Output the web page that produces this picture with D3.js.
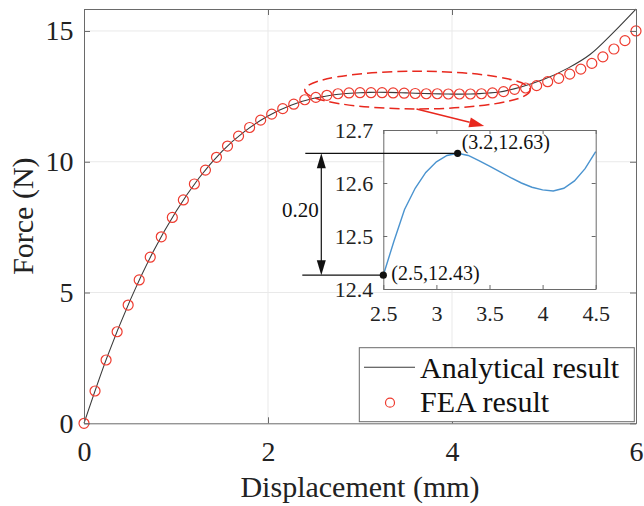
<!DOCTYPE html>
<html lang="en">
  <head>
    <meta charset="utf-8">
    <title>Force vs displacement</title>
    <style>
      body { margin: 0; background: #fff; }
      svg text { font-family: 'Liberation Serif', 'Times New Roman', Times, serif !important; }
    </style>
  </head>
  <body>
    <div id="chart"></div>
  </body>
  <script src="https://cdnjs.cloudflare.com/ajax/libs/d3/7.8.5/d3.min.js"></script>
  <script type="text/javascript">

    // analytical curve
    const analyticalX = [0, 0.25, 0.5, 0.75, 1.0, 1.25, 1.5, 1.75, 2.0, 2.25,
      2.5, 2.6, 2.7, 2.8, 2.9, 3.0, 3.1, 3.2, 3.3, 3.4, 3.5, 3.6, 3.7, 3.8, 3.9,
      4.0, 4.1, 4.2, 4.3, 4.4, 4.5, 4.75, 5.0, 5.25, 5.5, 5.75, 6.0]
    const analyticalY = [0, 2.52, 4.69, 6.55, 8.1, 9.38, 10.4, 11.17, 11.75, 12.16,
      12.426, 12.49, 12.55, 12.59, 12.62, 12.64, 12.652, 12.656, 12.652, 12.642, 12.632, 12.621, 12.61, 12.6, 12.592,
      12.587, 12.585, 12.59, 12.604, 12.627, 12.659, 12.86, 13.15, 13.56, 14.1, 14.93, 15.84]

    // FEA points
    const feaX = [0, 0.12, 0.24, 0.36, 0.48, 0.6, 0.72, 0.84, 0.96, 1.08,
      1.2, 1.32, 1.44, 1.56, 1.68, 1.8, 1.92, 2.04, 2.16, 2.28,
      2.4, 2.52, 2.64, 2.76, 2.88, 3.0, 3.12, 3.24, 3.36, 3.48,
      3.6, 3.72, 3.84, 3.96, 4.08, 4.2, 4.32, 4.44, 4.56, 4.68,
      4.8, 4.92, 5.04, 5.16, 5.28, 5.4, 5.52, 5.64, 5.76, 5.88, 6.0]
    const feaY = [0, 1.235, 2.42, 3.5, 4.52, 5.48, 6.35, 7.13, 7.87, 8.54,
      9.15, 9.68, 10.17, 10.6, 10.98, 11.31, 11.59, 11.82, 12.03, 12.2,
      12.37, 12.46, 12.54, 12.6, 12.63, 12.64, 12.64, 12.64, 12.63, 12.62,
      12.61, 12.6, 12.6, 12.59, 12.59, 12.59, 12.6, 12.63, 12.68, 12.77,
      12.82, 12.91, 13.06, 13.19, 13.35, 13.54, 13.76, 14.01, 14.31, 14.63, 15.0]

    const xTicks = [0, 2, 4, 6]
    const yTicks = [0, 5, 10, 15]
    const insetXDomain = [2.5, 4.5]
    const insetYDomain = [12.4, 12.7]
    const insetXTicks = [2.5, 3, 3.5, 4, 4.5]
    const insetYTicks = [12.4, 12.5, 12.6, 12.7]

    const peakPoint = [3.2, 12.656]
    const peakLabel = '(3.2,12.63)'
    const startPoint = [2.5, 12.426]
    const startLabel = '(2.5,12.43)'
    const gapLabel = '0.20'
    const highlight = { x0: 2.4, x1: 4.85, y0: 12.02, y1: 13.46 }
    const legendLabels = ['Analytical result', 'FEA result']
    const xLabel = 'Displacement (mm)'
    const yLabel = 'Force (N)'

    const width = 644, height = 506
    const plot = { left: 84, right: 636, top: 9, bottom: 423.3 }
    const inset = { left: 383.3, right: 595.7, top: 130, bottom: 289 }
    const axisColor = '#6a6a6a'
    const red = '#ee3b2f'
    const serif = 'Liberation Serif'

    const svg = d3.select('#chart').append('svg')
      .attr('width', width)
      .attr('height', height)
      .attr('font-family', serif)
      .style('display', 'block')

    const x = d3.scaleLinear().domain([0, 6]).range([plot.left, plot.right])
    const y = d3.scaleLinear().domain([0, d3.max(analyticalY)]).range([plot.bottom, plot.top])

    // grid
    const grid = svg.append('g').attr('stroke', '#e9e9e9').attr('stroke-width', 1)
    grid.selectAll('.gx').data(xTicks.slice(1, -1)).enter().append('line')
      .attr('x1', d => x(d)).attr('x2', d => x(d))
      .attr('y1', plot.top).attr('y2', plot.bottom)
    grid.selectAll('.gy').data(yTicks.slice(1)).enter().append('line')
      .attr('x1', plot.left).attr('x2', plot.right)
      .attr('y1', d => y(d)).attr('y2', d => y(d))

    // analytical line
    const analytical = analyticalX.map((v, i) => [v, analyticalY[i]])
    const line = d3.line().x(d => x(d[0])).y(d => y(d[1])).curve(d3.curveMonotoneX)
    svg.append('path')
      .datum(analytical)
      .attr('d', line)
      .attr('fill', 'none')
      .attr('stroke', '#3a3a3a')
      .attr('stroke-width', 1.1)

    // FEA circles
    svg.append('g').selectAll('circle')
      .data(feaX.map((v, i) => [v, feaY[i]]))
      .enter().append('circle')
      .attr('cx', d => x(d[0]))
      .attr('cy', d => y(d[1]))
      .attr('r', 5)
      .attr('fill', 'none')
      .attr('stroke', red)
      .attr('stroke-width', 1.2)

    // dashed highlight ellipse
    svg.append('ellipse')
      .attr('cx', x((highlight.x0 + highlight.x1) / 2))
      .attr('cy', y((highlight.y0 + highlight.y1) / 2))
      .attr('rx', (x(highlight.x1) - x(highlight.x0)) / 2)
      .attr('ry', (y(highlight.y0) - y(highlight.y1)) / 2)
      .attr('fill', 'none')
      .attr('stroke', '#e8281e')
      .attr('stroke-width', 1.5)
      .attr('stroke-dasharray', '10,5')

    // ---- inset ----
    const ix = d3.scaleLinear().domain(insetXDomain).range([inset.left, inset.right])
    const iy = d3.scaleLinear().domain(insetYDomain).range([inset.bottom, inset.top])

    // red arrow from ellipse to inset
    const arrowStart = [x((highlight.x0 + highlight.x1) / 2) - 1, y(highlight.y0)]
    const arrowTip = [ix(3.45), inset.top - 4]
    const ang = Math.atan2(arrowTip[1] - arrowStart[1], arrowTip[0] - arrowStart[0])
    const headLen = 15, headW = 5
    const base = [arrowTip[0] - headLen * Math.cos(ang), arrowTip[1] - headLen * Math.sin(ang)]
    svg.append('line')
      .attr('x1', arrowStart[0]).attr('y1', arrowStart[1])
      .attr('x2', base[0]).attr('y2', base[1])
      .attr('stroke', '#e8281e').attr('stroke-width', 1.5)
    svg.append('path')
      .attr('d', `M${arrowTip[0]},${arrowTip[1]}
        L${base[0] + headW * Math.sin(ang)},${base[1] - headW * Math.cos(ang)}
        L${base[0] - headW * Math.sin(ang)},${base[1] + headW * Math.cos(ang)}Z`)
      .attr('fill', '#e8281e')

    svg.append('rect')
      .attr('x', inset.left).attr('y', inset.top)
      .attr('width', inset.right - inset.left).attr('height', inset.bottom - inset.top)
      .attr('fill', '#fff')

    const insetLine = d3.line().x(d => ix(d[0])).y(d => iy(d[1]))
    svg.append('path')
      .datum(analytical.filter(d => d[0] >= insetXDomain[0] && d[0] <= insetXDomain[1]))
      .attr('d', insetLine)
      .attr('fill', 'none')
      .attr('stroke', '#4a93cf')
      .attr('stroke-width', 1.4)

    function styleAxis(g, fontSize) {
      g.attr('font-family', serif).attr('font-size', fontSize)
      g.selectAll('.domain').attr('stroke', axisColor)
      g.selectAll('.tick line').attr('stroke', axisColor)
      g.selectAll('.tick text').attr('fill', '#222')
    }

    const fmt = d => String(d)

    styleAxis(svg.append('g').attr('transform', `translate(0,${inset.bottom})`)
      .call(d3.axisBottom(ix).tickValues(insetXTicks).tickFormat(fmt).tickSizeInner(-4).tickSizeOuter(0).tickPadding(16)), 22)
    styleAxis(svg.append('g').attr('transform', `translate(${inset.left},0)`)
      .call(d3.axisLeft(iy).tickValues(insetYTicks).tickFormat(d3.format('.1f')).tickSizeInner(-4).tickSizeOuter(0).tickPadding(10)), 22)
    styleAxis(svg.append('g').attr('transform', `translate(0,${inset.top})`)
      .call(d3.axisTop(ix).tickValues(insetXTicks).tickFormat('').tickSizeInner(-4).tickSizeOuter(0)), 22)
    styleAxis(svg.append('g').attr('transform', `translate(${inset.right},0)`)
      .call(d3.axisRight(iy).tickValues(insetYTicks).tickFormat('').tickSizeInner(-4).tickSizeOuter(0)), 22)

    // dimension annotation
    const ann = svg.append('g')
    const dimX = ix(insetXDomain[0]) - 62
    ann.append('line')
      .attr('x1', ix(insetXDomain[0]) - 78).attr('x2', ix(peakPoint[0]))
      .attr('y1', iy(peakPoint[1])).attr('y2', iy(peakPoint[1]))
      .attr('stroke', '#111').attr('stroke-width', 1.2)
    ann.append('line')
      .attr('x1', ix(insetXDomain[0]) - 81).attr('x2', ix(startPoint[0]))
      .attr('y1', iy(startPoint[1])).attr('y2', iy(startPoint[1]))
      .attr('stroke', '#111').attr('stroke-width', 1.2)
    ann.append('line')
      .attr('x1', dimX).attr('x2', dimX)
      .attr('y1', iy(peakPoint[1]) + 10).attr('y2', iy(startPoint[1]) - 10)
      .attr('stroke', '#111').attr('stroke-width', 1.2)
    const yTop = iy(peakPoint[1]), yBot = iy(startPoint[1])
    ann.append('path')
      .attr('d', `M${dimX},${yTop} L${dimX - 4.5},${yTop + 15} L${dimX + 4.5},${yTop + 15}Z`)
      .attr('fill', '#111')
    ann.append('path')
      .attr('d', `M${dimX},${yBot} L${dimX - 4.5},${yBot - 15} L${dimX + 4.5},${yBot - 15}Z`)
      .attr('fill', '#111')
    ann.append('text')
      .attr('x', dimX - 21).attr('y', (yTop + yBot) / 2 + 3)
      .attr('text-anchor', 'middle')
      .attr('font-size', 21)
      .attr('fill', '#111')
      .text(gapLabel)

    ann.selectAll('circle')
      .data([peakPoint, startPoint])
      .enter().append('circle')
      .attr('cx', d => ix(d[0])).attr('cy', d => iy(d[1]))
      .attr('r', 3.6).attr('fill', '#111')
    ann.append('text')
      .attr('x', ix(peakPoint[0]) + 4).attr('y', iy(peakPoint[1]) - 4)
      .attr('font-size', 20).attr('fill', '#111')
      .text(peakLabel)
    ann.append('text')
      .attr('x', ix(startPoint[0]) + 8).attr('y', iy(startPoint[1]) + 5)
      .attr('font-size', 20).attr('fill', '#111')
      .text(startLabel)

    // ---- main axes ----
    styleAxis(svg.append('g').attr('transform', `translate(0,${plot.bottom})`)
      .call(d3.axisBottom(x).tickValues(xTicks).tickFormat(fmt).tickSizeInner(-6).tickSizeOuter(0).tickPadding(18)), 28)
    styleAxis(svg.append('g').attr('transform', `translate(${plot.left},0)`)
      .call(d3.axisLeft(y).tickValues(yTicks).tickFormat(fmt).tickSizeInner(-6).tickSizeOuter(0).tickPadding(10.5)), 28)
    styleAxis(svg.append('g').attr('transform', `translate(0,${plot.top})`)
      .call(d3.axisTop(x).tickValues(xTicks).tickFormat('').tickSizeInner(-6).tickSizeOuter(0)), 28)
    styleAxis(svg.append('g').attr('transform', `translate(${plot.right},0)`)
      .call(d3.axisRight(y).tickValues(yTicks).tickFormat('').tickSizeInner(-6).tickSizeOuter(0)), 28)

    // legend
    const legend = svg.append('g')
    legend.append('rect')
      .attr('x', 359.3).attr('y', 347.7).attr('width', 275).attr('height', 74)
      .attr('fill', '#fff').attr('stroke', axisColor).attr('stroke-width', 1)
    legend.append('line')
      .attr('x1', 364).attr('x2', 415).attr('y1', 367.3).attr('y2', 367.3)
      .attr('stroke', '#3a3a3a').attr('stroke-width', 1.1)
    legend.append('circle')
      .attr('cx', 390).attr('cy', 402.7).attr('r', 4.5)
      .attr('fill', 'none').attr('stroke', red).attr('stroke-width', 1.2)
    legend.selectAll('text')
      .data(legendLabels)
      .enter().append('text')
      .attr('x', 420)
      .attr('y', (d, i) => 378.3 + i * 34)
      .attr('font-size', 30)
      .attr('fill', '#111')
      .text(d => d)

    // axis titles
    svg.append('text')
      .attr('x', (plot.left + plot.right) / 2)
      .attr('y', 497)
      .attr('text-anchor', 'middle')
      .attr('font-size', 30)
      .attr('fill', '#222')
      .text(xLabel)
    svg.append('text')
      .attr('transform', `translate(33,${(plot.top + plot.bottom) / 2}) rotate(-90)`)
      .attr('text-anchor', 'middle')
      .attr('font-size', 30)
      .attr('fill', '#222')
      .text(yLabel)

  </script>
</html>
